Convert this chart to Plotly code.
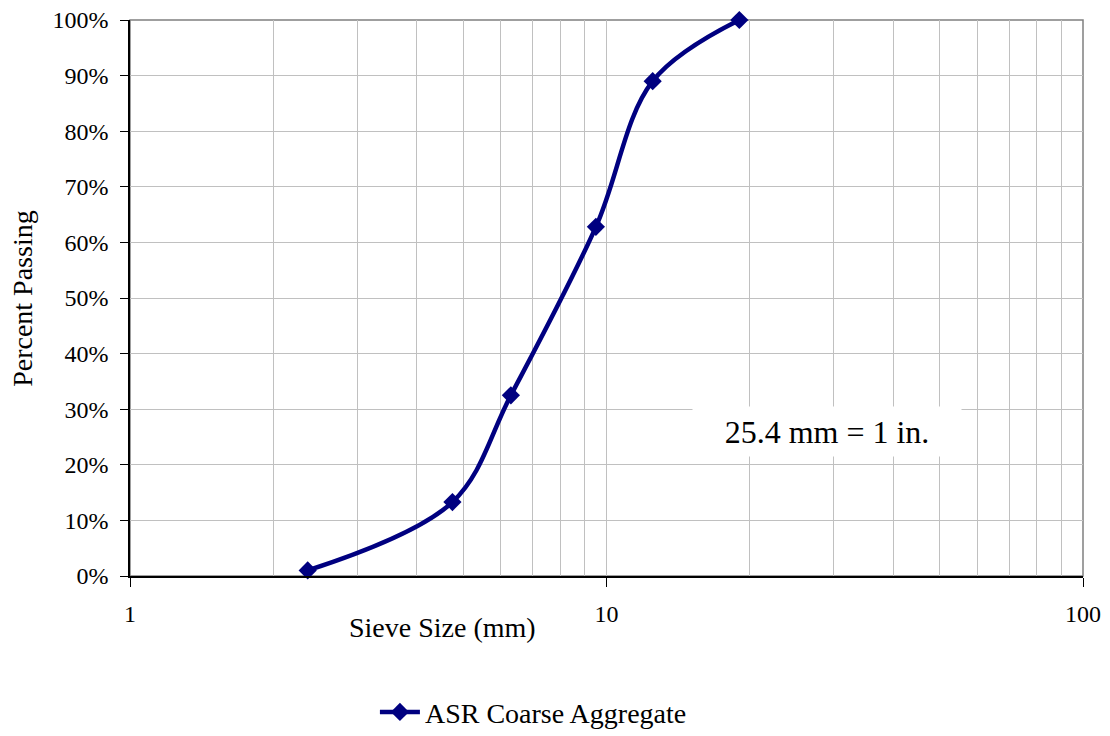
import plotly.graph_objects as go

sieve_mm = [2.36, 4.75, 6.3, 9.5, 12.5, 19.0]
percent_passing = [1.0, 13.3, 32.5, 62.8, 89.0, 100.0]
series_name = "ASR Coarse Aggregate"
y_ticks = list(range(0, 101, 10))
y_tick_labels = [f"{v}%" for v in y_ticks]
x_ticks = [1, 10, 100]
x_tick_labels = ["1", "10", "100"]

FONT = "Liberation Serif"
NAVY = "#000080"
GRID = "#c0c0c0"

fig = go.Figure()
fig.add_trace(go.Scatter(
    x=sieve_mm, y=percent_passing, name=series_name,
    mode="lines+markers",
    line=dict(color=NAVY, width=4.5, shape="spline", smoothing=1.0),
    marker=dict(symbol="diamond", size=14, color=NAVY),
    cliponaxis=False,
))

fig.update_layout(
    width=1102, height=728,
    margin=dict(l=122, r=27, t=12, b=160, autoexpand=False),
    paper_bgcolor="white", plot_bgcolor="white",
    font=dict(family=FONT, size=24, color="black"),
    showlegend=True,
    legend=dict(orientation="h", x=0.257, xanchor="left", y=-0.245, yanchor="middle",
                font=dict(family=FONT, size=28, color="black"), itemwidth=40),
    xaxis=dict(type="log", range=[0, 2], tickvals=x_ticks, ticktext=x_tick_labels,
               ticks="outside", ticklen=9, tickcolor="black", automargin=False,
               ticklabelstandoff=6, ticklabeloverflow="allow",
               showgrid=True, gridcolor=GRID, gridwidth=1,
               minor=dict(showgrid=True, gridcolor=GRID, gridwidth=1, ticks="",
                          tickvals=[2,3,4,5,6,7,8,9,20,30,40,50,60,70,80,90]),
               showline=True, linecolor="black", linewidth=1.5, zeroline=False,
               tickfont=dict(family=FONT, size=24, color="black")),
    yaxis=dict(range=[0, 100], tickvals=y_ticks, ticktext=y_tick_labels,
               ticks="outside", ticklen=8, tickcolor="black", automargin=False,
               ticklabelstandoff=7, ticklabeloverflow="allow",
               showgrid=True, gridcolor=GRID, gridwidth=1,
               showline=True, linecolor="black", linewidth=1.5, zeroline=False,
               tickfont=dict(family=FONT, size=24, color="black")),
    shapes=[dict(type="rect", xref="paper", yref="paper", x0=0, x1=1, y0=0, y1=1,
                 line=dict(color="#808080", width=1.5), layer="below")],
    annotations=[
        dict(text="Sieve Size (mm)", xref="paper", yref="paper", x=0.328, y=-0.0935,
             xanchor="center", yanchor="middle", showarrow=False,
             font=dict(family=FONT, size=28)),
        dict(text="Percent Passing", xref="paper", yref="paper", x=-0.113, y=0.499,
             xanchor="center", yanchor="middle", textangle=-90, showarrow=False,
             font=dict(family=FONT, size=28)),
        dict(text="25.4 mm = 1 in.", xref="paper", yref="paper", x=0.731, y=0.259,
             xanchor="center", yanchor="middle", showarrow=False, bgcolor="white",
             width=266, height=47, font=dict(family=FONT, size=32)),
    ],
)

fig.write_html("out.html")
